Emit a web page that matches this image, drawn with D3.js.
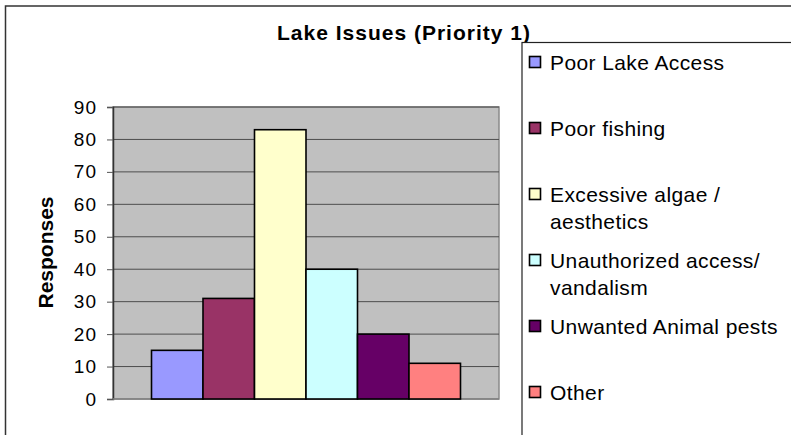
<!DOCTYPE html>
<html>
<head>
<meta charset="utf-8">
<script src="https://cdn.jsdelivr.net/npm/d3@7/dist/d3.min.js"></script>
<style>
  html, body { margin: 0; padding: 0; background: #fff; }
  svg { display: block; font-family: "Liberation Sans", Arial, sans-serif; }
</style>
</head>
<body>
<svg id="chart" width="791" height="435"></svg>
<script>
// ---- data ----
const title = "Lake Issues (Priority 1)";
const yAxisTitle = "Responses";
const categories = ["Poor Lake Access", "Poor fishing", "Excessive algae / aesthetics",
  "Unauthorized access/ vandalism", "Unwanted Animal pests", "Other"];
const legendLines = [["Poor Lake Access"], ["Poor fishing"], ["Excessive algae /", "aesthetics"],
  ["Unauthorized access/", "vandalism"], ["Unwanted Animal pests"], ["Other"]];
const values = [15, 31, 83, 40, 20, 11];
const colors = ["#9999FF", "#993366", "#FFFFCC", "#CCFFFF", "#660066", "#FF8080"];
const yTicks = [0, 10, 20, 30, 40, 50, 60, 70, 80, 90];

// ---- layout ----
const svg = d3.select("#chart");
const plot = { left: 113, right: 499, top: 107, bottom: 399 };
const gapHalf = 38.5;

// outer frame
svg.append("rect").attr("x", 5.5).attr("y", 6).attr("width", 900).attr("height", 600)
  .attr("fill", "#fff").attr("stroke", "#333").attr("stroke-width", 1.5);

const y = d3.scaleLinear().domain([0, 90]).range([plot.bottom, plot.top]);
const x = d3.scaleBand().domain(categories)
  .range([plot.left + gapHalf, plot.right - gapHalf]).padding(0);

// plot background
svg.append("rect").attr("x", plot.left).attr("y", plot.top)
  .attr("width", plot.right - plot.left).attr("height", plot.bottom - plot.top)
  .attr("fill", "#C0C0C0").attr("stroke", "#8a8a8a").attr("stroke-width", 1.5);

// gridlines
svg.append("g").selectAll("line").data(yTicks.filter(d => d > 0)).join("line")
  .attr("x1", plot.left).attr("x2", plot.right)
  .attr("y1", d => y(d)).attr("y2", d => y(d))
  .attr("stroke", "#4d4d4d").attr("stroke-width", 1);

// y axis
const yAxis = d3.axisLeft(y).tickValues(yTicks).tickSize(6).tickPadding(10);
const gy = svg.append("g").attr("transform", `translate(${plot.left},0)`).call(yAxis);
gy.select(".domain").attr("stroke", "#333").attr("stroke-width", 1.5);
gy.selectAll(".tick line").attr("stroke", "#555").attr("stroke-width", 1);
gy.selectAll(".tick text").attr("font-size", 19).attr("fill", "#000")
  .attr("letter-spacing", 1)
  .attr("font-family", "Liberation Sans, Arial, sans-serif");

// bottom axis line
svg.append("line").attr("x1", plot.left).attr("x2", plot.right)
  .attr("y1", plot.bottom).attr("y2", plot.bottom)
  .attr("stroke", "#808080").attr("stroke-width", 1.5);

// bars
svg.append("g").selectAll("rect").data(values).join("rect")
  .attr("x", (d, i) => x(categories[i]))
  .attr("y", d => y(d))
  .attr("width", x.bandwidth())
  .attr("height", d => y(0) - y(d))
  .attr("fill", (d, i) => colors[i])
  .attr("stroke", "#000").attr("stroke-width", 1.6);

// title
svg.append("text").attr("x", 277).attr("y", 40)
  .attr("font-size", 21).attr("font-weight", "bold").attr("fill", "#000")
  .attr("textLength", 253).attr("lengthAdjust", "spacing")
  .text(title);

// y axis title
svg.append("text")
  .attr("transform", "translate(53,252.5) rotate(-90)")
  .attr("text-anchor", "middle")
  .attr("font-size", 21).attr("font-weight", "bold").attr("fill", "#000")
  .text(yAxisTitle);

// legend
svg.append("rect").attr("x", 522).attr("y", 42.5).attr("width", 400).attr("height", 500)
  .attr("fill", "#fff").attr("stroke", "#222").attr("stroke-width", 1.2);

const rowY = d3.scalePoint().domain(categories).range([62, 392]);
const lg = svg.append("g").selectAll("g").data(categories).join("g")
  .attr("transform", d => `translate(0,${rowY(d)})`);
lg.append("rect").attr("x", 529.5).attr("y", -5.5).attr("width", 11).attr("height", 11)
  .attr("fill", (d, i) => colors[i]).attr("stroke", "#000").attr("stroke-width", 1.6);
lg.each(function(d, i) {
  const t = d3.select(this).append("text").attr("x", 550).attr("y", 7.5)
    .attr("font-size", 21).attr("letter-spacing", 0.4).attr("fill", "#000");
  legendLines[i].forEach((line, j) => {
    t.append("tspan").attr("x", 550).attr("dy", j === 0 ? 0 : 27.5).text(line);
  });
});
</script>
</body>
</html>
